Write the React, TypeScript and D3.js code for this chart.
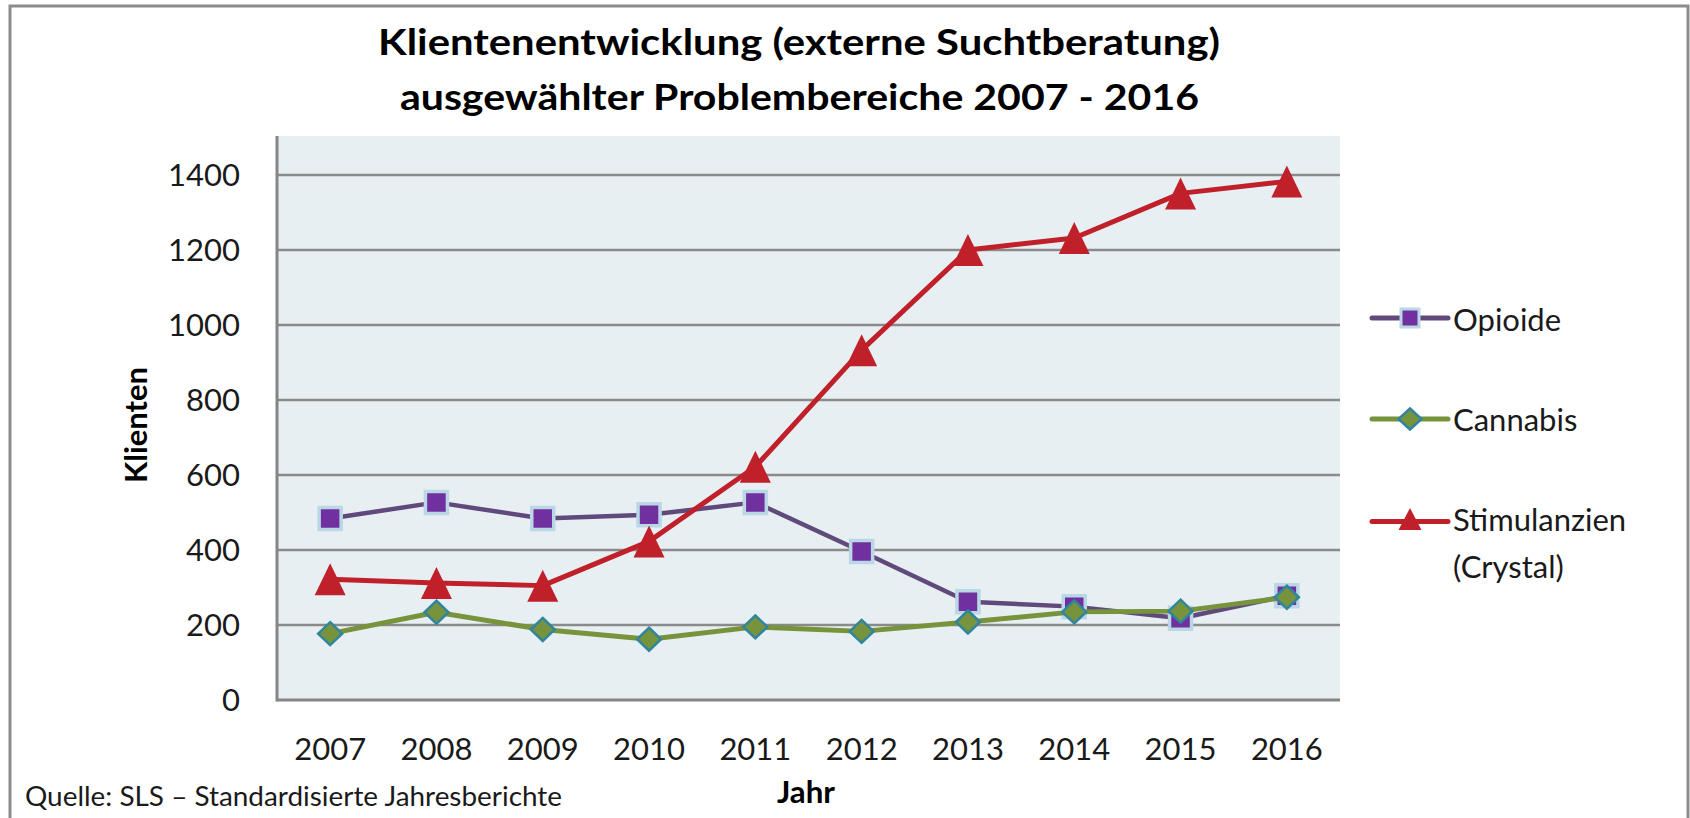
import React from "react";
import * as d3 from "d3";

const years = ["2007", "2008", "2009", "2010", "2011", "2012", "2013", "2014", "2015", "2016"];
const opioide = [484, 527, 484, 494, 527, 396, 262, 249, 218, 278];
const cannabis = [177, 234, 188, 162, 195, 183, 208, 235, 237, 274];
const stimulanzien = [322, 312, 305, 423, 622, 933, 1200, 1232, 1351, 1383];
const yTicks = [0, 200, 400, 600, 800, 1000, 1200, 1400];
const titleLines = [
  "Klientenentwicklung (externe Suchtberatung)",
  "ausgewählter Problembereiche 2007 - 2016",
];
const legendLabels = ["Opioide", "Cannabis", "Stimulanzien", "(Crystal)"];

const W = 1690;
const H = 818;
const plot = { left: 277, right: 1340, top: 136, bottom: 700 };
const FONT = "Lato, 'Open Sans', sans-serif";

export default function App() {
  const x = d3
    .scalePoint<string>()
    .domain(years)
    .range([plot.left, plot.right])
    .padding(0.5);
  const y = d3.scaleLinear().domain([0, 1500]).range([plot.bottom, plot.bottom - 1500 * (75 / 200)]);

  const line = d3
    .line<number>()
    .x((_, i) => x(years[i]) as number)
    .y((d) => y(d));

  const squarePath = (cx: number, cy: number, s: number) =>
    `M${cx - s / 2},${cy - s / 2}h${s}v${s}h${-s}Z`;
  const diamondPath = (cx: number, cy: number, hw: number, hh: number) =>
    `M${cx},${cy - hh}L${cx + hw},${cy}L${cx},${cy + hh}L${cx - hw},${cy}Z`;
  const trianglePath = (cx: number, cy: number, w: number, h: number) =>
    `M${cx},${cy - h / 2}L${cx + w / 2},${cy + h / 2}L${cx - w / 2},${cy + h / 2}Z`;

  const purple = "#604a7b";
  const purpleFill = "#7030a0";
  const squareStroke = "#b9d7e4";
  const green = "#77933c";
  const teal = "#31859c";
  const red = "#c0202a";
  const grid = "#8a8a8a";

  const legX1 = 1372;
  const legX2 = 1448;
  const legMid = (legX1 + legX2) / 2;
  const legTextX = 1453;

  return (
    <svg
      width={W}
      height={H}
      style={{ position: "absolute", left: 0, top: 0, background: "#fff" }}
      fontFamily={FONT}
    >
      <rect x={0} y={0} width={W} height={H} fill="#fff" />
      {/* chart frame */}
      <rect x={10} y={6} width={1678} height={830} fill="none" stroke="#8c8c8c" strokeWidth={3} />

      {/* title */}
      <text x={378} y={55} fontSize={36} fontWeight="bold" fill="#000" textLength={842} lengthAdjust="spacingAndGlyphs">
        {titleLines[0]}
      </text>
      <text x={400} y={110} fontSize={36} fontWeight="bold" fill="#000" textLength={799} lengthAdjust="spacingAndGlyphs">
        {titleLines[1]}
      </text>

      {/* plot background */}
      <rect
        x={plot.left}
        y={plot.top}
        width={plot.right - plot.left}
        height={plot.bottom - plot.top}
        fill="#e8eff3"
      />

      {/* gridlines */}
      {yTicks.slice(1).map((t) => (
        <line key={t} x1={plot.left} x2={plot.right} y1={y(t)} y2={y(t)} stroke={grid} strokeWidth={2.5} />
      ))}

      {/* axes */}
      <line x1={plot.left} x2={plot.left} y1={plot.top} y2={plot.bottom + 1.5} stroke="#868686" strokeWidth={3} />
      <line x1={plot.left} x2={plot.right} y1={plot.bottom} y2={plot.bottom} stroke="#868686" strokeWidth={3} />

      {/* y tick labels */}
      {yTicks.map((t) => (
        <text key={t} x={240} y={y(t) + 11} fontSize={31} textAnchor="end" fill="#1a1a1a">
          {t}
        </text>
      ))}

      {/* x tick labels */}
      {years.map((yr) => (
        <text key={yr} x={x(yr)} y={760} fontSize={31} textAnchor="middle" fill="#1a1a1a">
          {yr}
        </text>
      ))}

      {/* axis titles */}
      <text
        transform={`translate(147,425) rotate(-90)`}
        fontSize={31}
        fontWeight="bold"
        textAnchor="middle"
        fill="#000"
      >
        Klienten
      </text>
      <text x={777} y={803} fontSize={30} fontWeight="bold" fill="#000" textLength={58} lengthAdjust="spacingAndGlyphs">
        Jahr
      </text>
      <text x={25} y={806} fontSize={27} fill="#1a1a1a" textLength={537} lengthAdjust="spacingAndGlyphs">
        Quelle: SLS – Standardisierte Jahresberichte
      </text>

      {/* Opioide */}
      <path d={line(opioide) || ""} fill="none" stroke={purple} strokeWidth={4.5} strokeLinejoin="round" />
      {opioide.map((v, i) => (
        <path
          key={i}
          d={squarePath(x(years[i]) as number, y(v), 22)}
          fill={purpleFill}
          stroke={squareStroke}
          strokeWidth={3.5}
        />
      ))}

      {/* Cannabis */}
      <path d={line(cannabis) || ""} fill="none" stroke={green} strokeWidth={5} strokeLinejoin="round" />
      {cannabis.map((v, i) => (
        <path
          key={i}
          d={diamondPath(x(years[i]) as number, y(v), 12, 11.5)}
          fill={green}
          stroke={teal}
          strokeWidth={2.5}
        />
      ))}

      {/* Stimulanzien */}
      <path d={line(stimulanzien) || ""} fill="none" stroke={red} strokeWidth={5} strokeLinejoin="round" />
      {stimulanzien.map((v, i) => (
        <path key={i} d={trianglePath(x(years[i]) as number, y(v), 31, 32)} fill={red} />
      ))}

      {/* legend */}
      <line x1={legX1} x2={legX2} y1={318} y2={318} stroke={purple} strokeWidth={5} strokeLinecap="round" />
      <path d={squarePath(legMid, 318, 18)} fill={purpleFill} stroke={squareStroke} strokeWidth={3} />
      <text x={legTextX} y={330.5} fontSize={31} fill="#1a1a1a">
        {legendLabels[0]}
      </text>

      <line x1={legX1} x2={legX2} y1={419} y2={419} stroke={green} strokeWidth={5} strokeLinecap="round" />
      <path d={diamondPath(legMid, 419, 11.5, 10.5)} fill={green} stroke={teal} strokeWidth={2.5} />
      <text x={legTextX} y={430.5} fontSize={31} fill="#1a1a1a">
        {legendLabels[1]}
      </text>

      <line x1={legX1} x2={legX2} y1={521.5} y2={521.5} stroke={red} strokeWidth={5} strokeLinecap="round" />
      <path d={trianglePath(legMid, 519, 23, 22)} fill={red} />
      <text x={legTextX} y={530.5} fontSize={31} fill="#1a1a1a">
        {legendLabels[2]}
      </text>
      <text x={legTextX} y={577.5} fontSize={31} fill="#1a1a1a">
        {legendLabels[3]}
      </text>
    </svg>
  );
}
